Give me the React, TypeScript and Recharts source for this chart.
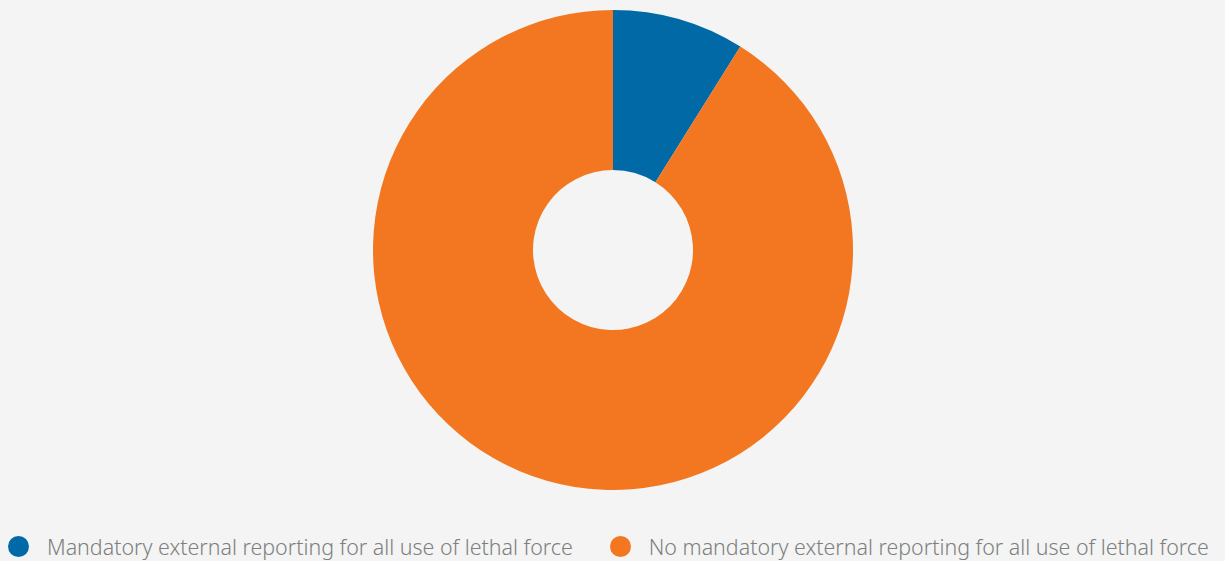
import { Cell, Legend, Pie, PieChart } from 'recharts'

// share of agencies (~32° for the blue slice)
const CATEGORIES = [
  'Mandatory external reporting for all use of lethal force',
  'No mandatory external reporting for all use of lethal force',
]
const VALUES = [8.9, 91.1]
const COLORS = ['#0069a6', '#f37721']

const data = CATEGORIES.map((name, i) => ({ name, value: VALUES[i] }))

function LegendRow() {
  return (
    <div
      style={{
        display: 'flex',
        alignItems: 'center',
        fontFamily: '"Noto Sans", sans-serif',
        fontWeight: 300,
        fontSize: 21.4,
        color: '#7d7f80',
        whiteSpace: 'nowrap',
      }}
    >
      {data.map((d, i) => (
        <span
          key={d.name}
          style={{
            display: 'inline-flex',
            alignItems: 'center',
            marginLeft: i === 0 ? 8 : 37,
          }}
        >
          <span
            style={{
              width: 21,
              height: 21,
              borderRadius: '50%',
              background: COLORS[i],
              display: 'inline-block',
              marginRight: 18,
            }}
          />
          {d.name}
        </span>
      ))}
    </div>
  )
}

export default function App() {
  return (
    <div
      style={{
        position: 'absolute',
        left: 0,
        top: 0,
        width: 1225,
        height: 561,
        background: '#f3f4f3',
      }}
    >
      <PieChart width={1225} height={561} margin={{ top: 0, right: 0, bottom: 0, left: 0 }}>
        <Pie
          data={data}
          dataKey="value"
          nameKey="name"
          cx={613}
          cy={250}
          innerRadius={80}
          outerRadius={240}
          startAngle={90}
          endAngle={-270}
          stroke="none"
          isAnimationActive={false}
        >
          {data.map((d, i) => (
            <Cell key={d.name} fill={COLORS[i]} />
          ))}
        </Pie>
        <Legend
          verticalAlign="bottom"
          align="left"
          wrapperStyle={{ left: 0, bottom: 0 }}
          content={() => <LegendRow />}
        />
      </PieChart>
    </div>
  )
}
